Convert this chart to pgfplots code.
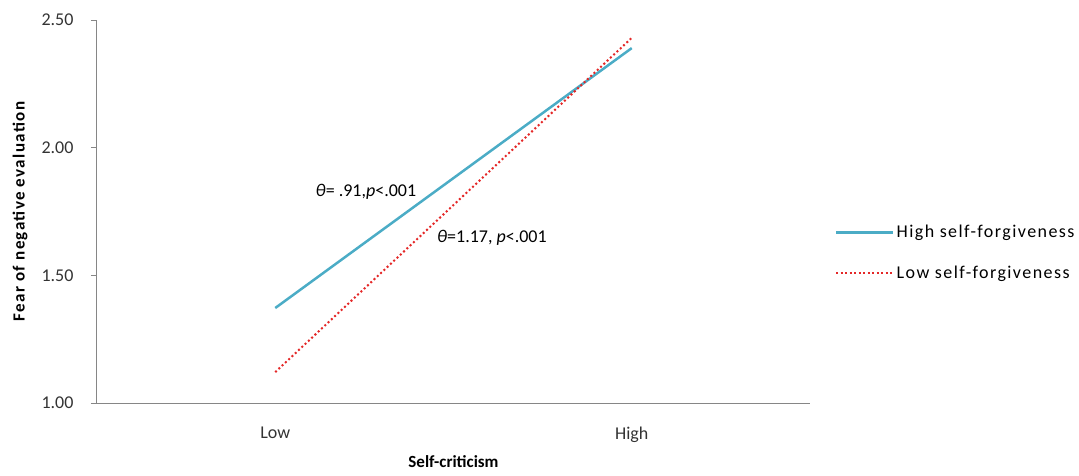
\documentclass[border=0pt]{standalone}
\usepackage{pgfplots}
\pgfplotsset{compat=1.18}
\usepackage{fontspec}
\setmainfont{Carlito}
\newfontfamily\widefont[LetterSpace=8]{Carlito}
\definecolor{blu}{RGB}{75,172,198}
\definecolor{redd}{RGB}{228,40,40}
\definecolor{axgray}{RGB}{134,134,134}
\begin{document}
\begin{tikzpicture}
\path[use as bounding box] (-97pt,-72pt) rectangle (982pt,403pt);
\begin{axis}[
  scale only axis, width=713pt, height=383pt,
  at={(0,0)}, anchor=south west,
  xmin=-0.5, xmax=1.5, ymin=1, ymax=2.5,
  xtick={0,1}, xticklabels={Low,High},
  ytick={1,1.5,2,2.5}, yticklabels={1.00,1.50,2.00,2.50},
  axis x line=bottom, axis y line=left,
  axis line style={axgray, -, line width=1pt},
  xtick style={draw=none},
  ytick style={axgray, line width=0.8pt},
  tick align=outside, major tick length=6pt,
  ticklabel style={font=\fontsize{18}{21}\selectfont, text=black!80},
  yticklabel style={xshift=-14pt},
  xticklabel style={yshift=-14pt},
  xlabel={\textbf{Self-criticism}},
  ylabel={\widefont\bfseries Fear of negative evaluation},
  label style={font=\fontsize{17}{19}\selectfont},
  xlabel style={at={(axis description cs:0.5,-0.154)}, anchor=center},
  ylabel style={at={(axis description cs:-0.108,0.5)}, anchor=center},
  legend style={at={(axis description cs:1.035,0.392)}, anchor=west, draw=none,
    font=\fontsize{18}{21}\selectfont\widefont, row sep=23pt, inner sep=0pt},
  legend cell align=left,
  legend image code/.code={\draw[#1] (0pt,0pt) -- (50pt,0pt); \path (0pt,0pt) -- (57pt,0pt);},
  clip=false,
]
\addplot[blu, line width=2.5pt] coordinates {(0,1.372) (1,2.39)};
\addlegendentry{High self-forgiveness}
\addplot[redd, line width=2pt, dash pattern=on 2pt off 2.5pt] coordinates {(0,1.121) (1,2.43)};
\addlegendentry{Low self-forgiveness}
\node[anchor=west, font=\fontsize{18}{21}\selectfont, inner sep=0pt] at (axis cs:0.113,1.826) {\textit{θ}= .91,\textit{p}<.001};
\node[anchor=west, font=\fontsize{18}{21}\selectfont, inner sep=0pt] at (axis cs:0.4535,1.646) {\textit{θ}=1.17, \textit{p}<.001};
\end{axis}
\end{tikzpicture}
\end{document}
